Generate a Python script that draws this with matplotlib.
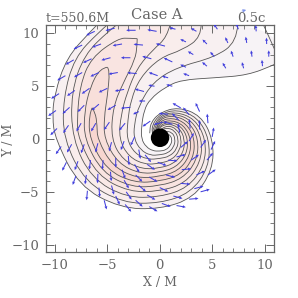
import numpy as np
import matplotlib
matplotlib.use('Agg')
import matplotlib.pyplot as plt
from matplotlib.path import Path
from matplotlib.patches import PathPatch, Circle
from matplotlib.ticker import MultipleLocator

# Contours: upper part as x/y, spiral part as radius per angle
angles = [180, 210, 240, 270, 300, 330, 360, 390, 420, 450, 480, 510]

up_a = [(-5.9, 10.9), (-6.5, 10.3), (-8.9, 7.7), (-10.05, 4.2), (-10.25, 2.1)]
up_b = [(-4.9, 10.9), (-5.8, 10.15), (-8.15, 7.7), (-9.2, 3.9)]
up_c = [(-4.0, 10.9), (-4.8, 10.3), (-7.2, 8.0), (-8.45, 4.45)]
up_d = [(-2.15, 9.5), (-2.8, 9.55), (-3.95, 9.55), (-6.55, 7.7), (-7.6, 5.1), (-7.9, 1.8)]
up_e = [(-5.0, 6.8), (-5.7, 6.7), (-6.65, 4.9), (-7.2, 2.55)]
up_f = [(-6.45, 2.95), (-6.75, 2.3)]
up_g = [(-6.45, 2.95), (-6.15, 2.55), (-5.97, 1.3)]
up_h = [(-5.0, 6.8), (-4.75, 6.55), (-5.0, 4.0), (-5.3, 2.1)]
up_i = [(-2.15, 9.5), (-2.15, 8.9), (-2.35, 7.5), (-3.5, 5.3), (-4.45, 3.05)]
up_j = [(1.0, 10.9), (0.7, 9.65), (-0.65, 8.45), (-2.15, 6.75), (-3.1, 4.45), (-3.7, 2.3)]
up_k = [(3.95, 10.9), (3.95, 9.65), (2.2, 8.45), (0.0, 7.7), (-1.9, 5.8), (-2.75, 3.7), (-3.05, 1.8)]
up_l = [(7.45, 10.9), (7.35, 9.2), (5.25, 7.75), (1.65, 6.8), (-0.65, 5.4), (-2.0, 3.2), (-2.45, 1.3)]
up_n = [(11.0, 7.1), (10.85, 7.0), (8.4, 6.05), (5.25, 5.8), (2.05, 5.6), (0.5, 4.9), (-0.9, 3.8), (-1.5, 2.75), (-1.75, 1.1)]
corner = [(9.85, 10.9), (10.5, 9.5), (10.95, 8.5)]

r_a = [9.97, 8.9, 7.55, 6.65, 6.45, 5.85, 5.1, 4.5, 3.5, 2.5, 1.76, 1.1]
r_b = [9.2, 8.2, 7.0, 6.1, 5.9, 5.4, 4.75, 4.15, 3.25, 2.35, 1.5, 0.8]
r_c = [8.35, 7.5, 6.4, 5.5, 5.35, 4.95, 4.4, 3.85, 3.0, 2.2, 1.25, 0.8]
r_d = [7.75, 6.9, 5.8, 4.95, 4.85, 4.5, 4.05, 3.55, 2.8, 2.05, 1.05, 0.7]
r_e = [7.2, 6.35, 5.3, 4.45, 4.35, 4.1, 3.7, 3.25, 2.6, 1.9, 0.85]
r_f = [6.7, 5.85, 4.8, 4.0, 3.95, 3.7, 3.35, 2.95, 2.35, 1.7, 0.8]
r_g = [5.95, 5.2, 4.3, 3.55, 3.5, 3.3, 3.0, 2.65, 2.1, 1.5, 0.7]
r_h = [5.3, 4.6, 3.8, 3.15, 3.1, 2.95, 2.7, 2.4, 1.9, 1.3, 0.7]
r_i = [4.65, 4.05, 3.3, 2.75, 2.7, 2.6, 2.4, 2.15, 1.7, 1.15, 0.7]
r_j = [3.9, 3.4, 2.8, 2.3, 2.3, 2.2, 2.1, 1.9, 1.5, 0.85]
r_k = [3.15, 2.75, 2.25, 1.85, 1.9, 1.9, 1.8, 1.65, 1.25, 0.75]
r_l = [2.45, 2.1, 1.8, 1.5, 1.55, 1.55, 1.5, 1.35, 0.85]
r_n = [1.75, 1.5, 1.3, 1.15, 1.2, 1.2, 1.2, 1.0, 0.7]

# Velocity arrows: position, direction in degrees
disc_x = [-6.2, -4.3, -2.3, -0.3, -7.4, -5.6, -3.6, -1.6, 0.5, -8.2, -6.5, -4.7, -2.8, -0.8, 1.2,
          -9.0, -7.4, -5.8, -4.0, -2.2, -0.2, -9.6, -8.1, -6.7, -5.0, -3.4, -1.5,
          -9.9, -8.6, -7.2, -5.8, -4.2, -2.8, -9.8, -8.7, -7.5, -6.1, -4.8, -3.3,
          -9.4, -8.4, -7.2, -5.9, -4.6, -3.4, -2.4, -8.9, -7.8, -6.6, -5.4, -4.2, -3.0, -2.0,
          -8.0, -7.0, -5.9, -4.7, -3.6, -2.4, -1.4, -6.9, -5.8, -4.6, -3.4, -2.3, -1.2,
          -5.3, -4.2, -3.2, -2.0, -1.0, -0.2, -3.3, -2.3, -1.2, 0.0, 0.6, 0.8,
          -1.0, 0.2, 1.3, 2.0, 2.1, 1.6, 1.6, 2.8, 3.3, 3.5, 3.0, 2.0,
          3.9, 4.6, 4.5, 3.9, 2.8, 4.9, 5.0, 4.6, 3.8, 2.9, 1.9, 3.8, 2.8, 1.8,
          2.0, 0.8, 0.3, -0.9, 1.2]
disc_y = [10.2, 10.5, 10.3, 10.2, 8.9, 9.0, 9.0, 8.9, 8.8, 7.5, 7.6, 7.7, 7.7, 7.6, 7.3,
          6.0, 6.3, 6.3, 6.3, 6.2, 6.0, 4.3, 4.6, 4.8, 4.8, 4.7, 4.5,
          2.7, 3.0, 3.2, 3.3, 3.2, 3.0, 1.0, 1.3, 1.5, 1.5, 1.6, 1.5,
          -0.7, -0.5, -0.5, -0.4, -0.3, -0.2, 0.2, -2.2, -2.1, -2.0, -2.0, -1.8, -1.6, -1.0,
          -3.5, -3.4, -3.3, -3.1, -2.9, -2.4, -1.5, -4.9, -4.6, -4.4, -3.9, -3.4, -2.4,
          -5.8, -5.4, -5.0, -4.4, -3.6, -2.2, -6.2, -5.8, -5.3, -4.6, -3.4, -2.0,
          -6.4, -6.1, -5.4, -4.2, -2.9, -1.7, -6.3, -5.7, -4.7, -3.4, -2.0, -0.8,
          -5.0, -3.4, -2.0, -0.8, -0.2, -1.0, 0.2, 1.5, 0.9, 1.0, 0.6, 2.6, 2.3, 1.8,
          2.95, 2.35, 1.6, 1.7, 1.4]
disc_ang = [205, 195, 180, 170, 205, 200, 190, 175, 165, 210, 205, 195, 180, 165, 155,
            210, 210, 205, 190, 175, 160, 212, 215, 215, 205, 190, 165,
            215, 222, 225, 220, 210, 185, 225, 235, 240, 240, 235, 230,
            235, 240, 250, 255, 255, 250, 245, 243, 250, 262, 265, 270, 275, 280,
            250, 262, 268, 275, 290, 300, 310, 265, 275, 285, 300, 315, 325,
            285, 295, 305, 320, 330, 340, 310, 318, 330, 335, 345, 355,
            330, 340, 345, 355, 5, 15, 350, 5, 15, 25, 35, 40,
            15, 35, 50, 55, 60, 65, 80, 95, 90, 95, 100, 115, 130, 135,
            150, 175, 195, 215, 165]

arm_x = [1.5, 3.5, 5.5, 7.5, 9.2, 2.5, 4.5, 6.5, 8.3, 10.2, 3.2, 5.2, 7.0, 8.8, 10.4,
         2.5, 4.5, 6.3, 8.0, 9.8, 0.8, 2.8, -0.5, 1.2, -1.4, -2.0]
arm_y = [10.4, 10.2, 10.4, 10.4, 10.2, 9.2, 9.0, 9.1, 9.1, 9.0, 8.0, 7.8, 7.8, 7.8, 7.8,
         6.8, 6.9, 6.7, 6.7, 6.9, 5.8, 6.0, 5.0, 5.0, 3.6, 2.6]
arm_ang = [165, 150, 125, 110, 95, 155, 135, 115, 100, 92, 150, 130, 110, 98, 90,
           155, 140, 120, 105, 95, 165, 160, 170, 165, 180, 205]

disc_len = 0.9
arm_len = 0.6
line_col = '#555555'
text_col = '#666666'
arrow_col = '#3f3ddc'


def spiral(up, radii):
    th = np.radians(angles[:len(radii)])
    r = np.array(radii)
    return np.vstack([np.array(up), np.column_stack([r * np.cos(th), r * np.sin(th)])])


def smooth_path(pts, close=False):
    # read points used as quadratic control points
    verts = [pts[0]]
    codes = [Path.MOVETO]
    for i in range(1, len(pts) - 1):
        verts += [pts[i], (pts[i] + pts[i + 1]) / 2]
        codes += [Path.CURVE3, Path.CURVE3]
    verts.append(pts[-1])
    codes.append(Path.LINETO)
    if close:
        verts.append(pts[0])
        codes.append(Path.CLOSEPOLY)
    return Path(verts, codes)


a = spiral(up_a, r_a)
b = spiral(up_b, r_b)
c = spiral(up_c, r_c)
d = spiral(up_d, r_d)
e = spiral(up_e, r_e)
f = spiral(up_f, r_f)
g = spiral(up_g, r_g)
h = spiral(up_h, r_h)
i_ = spiral(up_i, r_i)
j = spiral(up_j, r_j)
k = spiral(up_k, r_k)
l_ = spiral(up_l, r_l)
n = spiral(up_n, r_n)

plt.rcParams['font.family'] = ['DejaVu Serif']
fig = plt.figure(figsize=(2.98, 2.98), dpi=100)
ax = fig.add_axes([46 / 298, 46 / 298, 227.7 / 298, 227 / 298])

# shaded bands, outermost first
base = np.vstack([a, n[::-1], [(11.0, 11.0), (-5.9, 11.0)]])
ax.add_patch(PathPatch(smooth_path(base, True), fc='#f7f3f6', ec='none', zorder=1))
pairs = [(a, l_, '#f8f0f1'), (b, k, '#f9edec'), (c, j, '#f9e9e7'),
         (d, i_, '#f9e4e1'), (e, h, '#f8dfda'), (f, g, '#f7d6d0')]
for p, q, col in pairs:
    ax.add_patch(PathPatch(smooth_path(np.vstack([p, q[::-1]]), True), fc=col, ec='none', zorder=1))

for line in [a, b, c, d, e, f, g, h, i_, j, k, l_, n, np.array(corner)]:
    ax.add_patch(PathPatch(smooth_path(line), fc='none', ec=line_col, lw=0.6, zorder=2))

ax.quiver(disc_x, disc_y, disc_len * np.cos(np.radians(disc_ang)), disc_len * np.sin(np.radians(disc_ang)),
          angles='xy', scale_units='xy', scale=1, color=arrow_col, width=0.0045,
          headwidth=3.0, headlength=3.2, headaxislength=2.8, zorder=3)
ax.quiver(arm_x, arm_y, arm_len * np.cos(np.radians(arm_ang)), arm_len * np.sin(np.radians(arm_ang)),
          angles='xy', scale_units='xy', scale=1, color=arrow_col, width=0.0045,
          headwidth=3.0, headlength=3.2, headaxislength=2.8, zorder=3)

ax.add_patch(Circle((0.03, 0.12), 0.88, fc='black', ec='none', zorder=4))

ax.set_xlim(-10.85, 10.87)
ax.set_ylim(-10.7, 10.8)
ax.xaxis.set_major_locator(MultipleLocator(5))
ax.yaxis.set_major_locator(MultipleLocator(5))
ax.xaxis.set_minor_locator(MultipleLocator(1))
ax.yaxis.set_minor_locator(MultipleLocator(1))
ax.tick_params(which='major', direction='in', top=True, right=True, length=6, width=0.7,
               color=text_col, labelcolor=text_col, labelsize=9.5, pad=5)
ax.tick_params(which='minor', direction='in', top=True, right=True, length=3, width=0.6, color=text_col)
for s in ax.spines.values():
    s.set_color(text_col)
    s.set_linewidth(0.9)

ax.set_xlabel('X / M', fontsize=9, color=text_col, labelpad=3)
ax.set_ylabel('Y / M', fontsize=9, color=text_col)
ax.yaxis.set_label_coords(-0.135, 0.49)
ax.text(-10.85, 10.8, 't=550.6M', fontsize=9, color=text_col, ha='left', va='bottom')
ax.text(-0.3, 11.1, 'Case A', fontsize=10.5, color=text_col, ha='center', va='bottom')
ax.text(10.1, 10.8, '0.5c', fontsize=9.5, color=text_col, ha='right', va='bottom')
ax.annotate('', xy=(8.5, 12.3), xytext=(7.6, 12.05), xycoords='data', annotation_clip=False,
            arrowprops=dict(arrowstyle='->', color='#7a90e8', lw=0.7, mutation_scale=4))

fig.savefig('out.png', dpi=100)
